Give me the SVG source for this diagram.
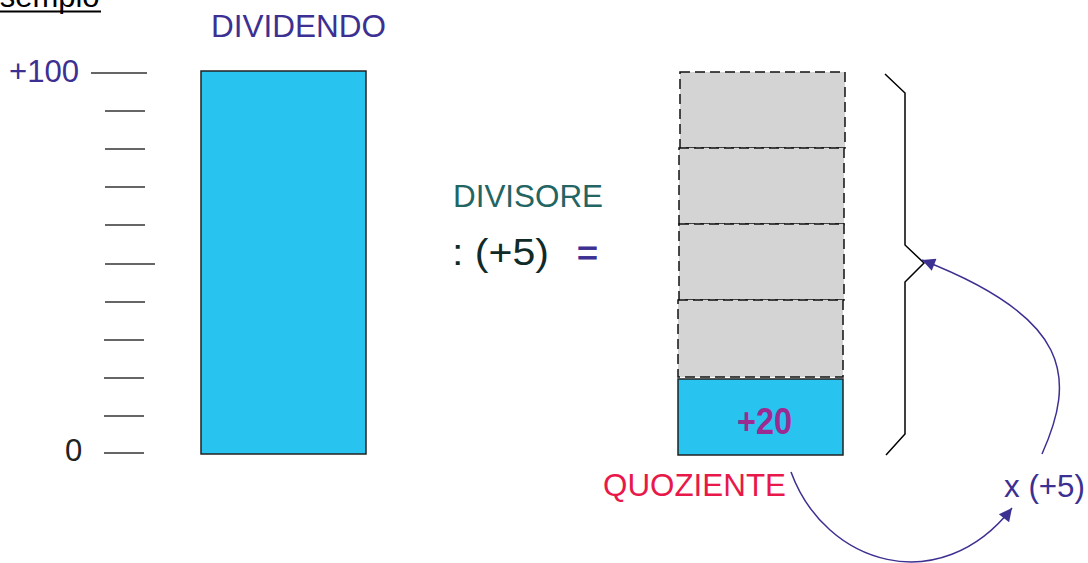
<svg xmlns="http://www.w3.org/2000/svg" width="1088" height="563" viewBox="0 0 1088 563">
<defs>
<style>
text{font-family:"Liberation Sans",Arial,sans-serif;font-size:31px}
.pur{fill:#3C3092}
.tick{stroke:#333;stroke-width:1.5}
.blue{fill:#29C3F0;stroke:#222;stroke-width:1.5}
.gray{fill:#D4D4D4;stroke:#111;stroke-width:1.5;stroke-dasharray:10,5}
.conn{fill:none;stroke:#3C3092;stroke-width:1.5}
</style>
<marker id="ah" viewBox="0 0 10 10" refX="10" refY="5" markerWidth="16" markerHeight="13" markerUnits="userSpaceOnUse" orient="auto">
<path d="M0,0 L10,5 L0,10 z" fill="#3C3092"/>
</marker>
</defs>
<rect width="1088" height="563" fill="#fff"/>
<g id="title">
<text x="-21" y="7" fill="#000">Esempio</text>
<line x1="0" y1="11.5" x2="101" y2="11.5" stroke="#000" stroke-width="2"/>
</g>
<g id="scale">
<text x="9" y="82" class="pur" textLength="70" lengthAdjust="spacingAndGlyphs">+100</text>
<text x="65" y="461" fill="#222">0</text>
<line class="tick" x1="91" y1="73" x2="147" y2="73"/>
<line class="tick" x1="105" y1="111" x2="145" y2="111"/>
<line class="tick" x1="105" y1="149" x2="145" y2="149"/>
<line class="tick" x1="105" y1="187" x2="145" y2="187"/>
<line class="tick" x1="105" y1="225" x2="145" y2="225"/>
<line class="tick" x1="105" y1="264" x2="155" y2="264"/>
<line class="tick" x1="105" y1="302" x2="145" y2="302"/>
<line class="tick" x1="104" y1="340" x2="144" y2="340"/>
<line class="tick" x1="104" y1="378" x2="144" y2="378"/>
<line class="tick" x1="104" y1="416" x2="144" y2="416"/>
<line class="tick" x1="104" y1="453" x2="144" y2="453"/>
</g>
<g id="dividendo">
<text x="211" y="37" class="pur" textLength="175" lengthAdjust="spacingAndGlyphs">DIVIDENDO</text>
<rect class="blue" x="201" y="71" width="165" height="383"/>
</g>
<g id="divisore">
<text x="453" y="207" fill="#236563" textLength="150" lengthAdjust="spacingAndGlyphs">DIVISORE</text>
<text x="452" y="265" fill="#102A28" style="font-size:36px" textLength="97" lengthAdjust="spacingAndGlyphs">: (+5)</text>
<text x="577" y="265" class="pur" style="font-size:36px;stroke:#3C3092;stroke-width:0.8" textLength="21" lengthAdjust="spacingAndGlyphs">=</text>
</g>
<g id="stack">
<rect class="gray" x="680" y="72" width="165" height="76"/>
<rect class="gray" x="679" y="148" width="165" height="76"/>
<rect class="gray" x="679" y="224" width="165" height="76"/>
<rect class="gray" x="678" y="300" width="165" height="77"/>
</g>
<g id="quoziente">
<rect class="blue" x="678" y="379" width="165" height="76"/>
<text x="737" y="434" fill="#9C2B91" style="font-size:36px;font-weight:bold" textLength="55" lengthAdjust="spacingAndGlyphs">+20</text>
<text x="603" y="496" fill="#E8194A" textLength="183" lengthAdjust="spacingAndGlyphs">QUOZIENTE</text>
</g>
<g id="brace">
<path d="M885,74 L905,93 L905,245 L924,263 L905,282 L905,434 L886,455" fill="none" stroke="#000" stroke-width="1.5"/>
</g>
<g id="moltiplica">
<text x="1004" y="497" class="pur" textLength="81" lengthAdjust="spacingAndGlyphs">x (+5)</text>
</g>
<g id="connectors">
<path class="conn" d="M791,472 C825,565 940,600 1012,508" marker-end="url(#ah)"/>
<path class="conn" d="M1042,454 C1076,378 1072,318 922,260" marker-end="url(#ah)"/>
</g>
</svg>
